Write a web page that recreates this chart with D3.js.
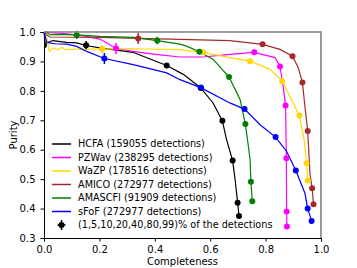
<!DOCTYPE html>
<html>
<head>
<meta charset="utf-8">
<script src="https://cdn.jsdelivr.net/npm/d3@7"></script>
<style>
  body { margin: 0; background: #fff; }
  text { font-family: "DejaVu Sans", sans-serif; }
</style>
</head>
<body>
<div id="chart"></div>
<script>
// ---- data: [completeness, purity] along each curve
var hcfaCurve = [[0,1.0],[0.006,0.947],[0.011,0.964],[0.032,0.971],[0.082,0.965],[0.118,0.963],[0.152,0.954],
  [0.202,0.946],[0.321,0.931],[0.443,0.886],[0.503,0.856],[0.566,0.81],[0.611,0.758],[0.644,0.698],
  [0.659,0.634],[0.681,0.563],[0.690,0.498],[0.699,0.42],[0.704,0.375]];
var pzwavCurve = [[0,1.0],[0.01,1.0],[0.034,0.997],[0.082,0.994],[0.154,0.985],[0.202,0.976],[0.26,0.944],
  [0.322,0.934],[0.395,0.925],[0.491,0.915],[0.575,0.915],[0.671,0.924],[0.759,0.931],[0.834,0.913],
  [0.852,0.883],[0.864,0.811],[0.872,0.750],[0.875,0.571],[0.876,0.39],[0.877,0.339]];
var wazpCurve = [[0,0.998],[0.010,0.981],[0.019,0.934],[0.034,0.946],[0.052,0.940],[0.064,0.948],[0.076,0.940],
  [0.118,0.942],[0.21,0.942],[0.322,0.943],[0.491,0.940],[0.575,0.931],[0.671,0.913],[0.744,0.901],
  [0.816,0.873],[0.860,0.833],[0.900,0.758],[0.922,0.716],[0.939,0.634],[0.948,0.554],[0.952,0.495]];
var amicoCurve = [[0,1.0],[0.01,0.99],[0.022,0.983],[0.202,0.982],[0.34,0.978],[0.491,0.975],[0.671,0.971],
  [0.789,0.958],[0.852,0.941],[0.897,0.918],[0.918,0.879],[0.933,0.828],[0.942,0.747],[0.952,0.664],
  [0.960,0.52],[0.968,0.469],[0.973,0.415]];
var amascfiCurve = [[0,1.0],[0.01,0.998],[0.022,0.991],[0.082,0.991],[0.118,0.99],[0.202,0.985],[0.322,0.982],
  [0.409,0.971],[0.491,0.959],[0.515,0.952],[0.561,0.933],[0.611,0.907],[0.668,0.847],[0.696,0.794],
  [0.708,0.770],[0.727,0.687],[0.738,0.611],[0.744,0.566],[0.747,0.491],[0.752,0.425]];
var sfofCurve = [[0,1.0],[0.009,0.967],[0.019,0.963],[0.040,0.960],[0.082,0.959],[0.118,0.951],[0.154,0.934],
  [0.218,0.910],[0.322,0.889],[0.443,0.861],[0.491,0.838],[0.566,0.811],[0.671,0.759],[0.724,0.738],
  [0.780,0.685],[0.836,0.643],[0.876,0.594],[0.909,0.529],[0.942,0.452],[0.952,0.40],[0.966,0.358]];

// ---- percentile markers: [completeness, purity, xerr, yerr]
var hcfaMarks = [[0.152,0.955,0.01,0.014],[0.443,0.886,0.004,0.004],[0.566,0.81,0.003,0.003],[0.644,0.698,0.003,0.003],
  [0.681,0.563,0.003,0.003],[0.699,0.42,0.003,0.003],[0.704,0.375,0.003,0.003]];
var pzwavMarks = [[0.26,0.944,0.01,0.019],[0.759,0.931,0.004,0.004],[0.852,0.883,0.003,0.004],[0.872,0.750,0.003,0.003],
  [0.875,0.571,0.003,0.003],[0.876,0.39,0.003,0.003],[0.877,0.339,0.003,0.003]];
var wazpMarks = [[0.21,0.942,0.01,0.014],[0.575,0.931,0.004,0.004],[0.744,0.901,0.003,0.003],[0.860,0.833,0.003,0.003],
  [0.922,0.716,0.003,0.003],[0.948,0.554,0.003,0.003],[0.952,0.495,0.003,0.003]];
var amicoMarks = [[0.34,0.978,0.01,0.019],[0.789,0.958,0.004,0.004],[0.897,0.918,0.004,0.004],[0.933,0.828,0.003,0.004],
  [0.952,0.664,0.003,0.003],[0.968,0.469,0.003,0.003],[0.973,0.415,0.003,0.003]];
var amascfiMarks = [[0.118,0.99,0.01,0.014],[0.409,0.971,0.008,0.013],[0.561,0.933,0.004,0.004],[0.668,0.847,0.003,0.003],
  [0.727,0.687,0.003,0.003],[0.747,0.491,0.003,0.003],[0.752,0.425,0.003,0.003]];
var sfofMarks = [[0.218,0.910,0.01,0.019],[0.566,0.811,0.004,0.004],[0.724,0.738,0.003,0.003],[0.836,0.643,0.003,0.003],
  [0.909,0.529,0.003,0.003],[0.952,0.40,0.003,0.003],[0.966,0.358,0.003,0.003]];

var names = ["HCFA (159055 detections)", "PZWav (238295 detections)", "WaZP (178516 detections)",
  "AMICO (272977 detections)", "AMASCFI (91909 detections)", "sFoF (272977 detections)"];
var colors = ["black", "magenta", "gold", "brown", "green", "blue"];
var curves = [hcfaCurve, pzwavCurve, wazpCurve, amicoCurve, amascfiCurve, sfofCurve];
var marks = [hcfaMarks, pzwavMarks, wazpMarks, amicoMarks, amascfiMarks, sfofMarks];
var markLabel = "(1,5,10,20,40,80,99)% of the detections";
var xTicks = [0, 0.2, 0.4, 0.6, 0.8, 1.0];
var yTicks = [0.3, 0.4, 0.5, 0.6, 0.7, 0.8, 0.9, 1.0];

var W = 357, H = 268;
var margin = {top: 32, right: 36, bottom: 30, left: 44};

var svg = d3.select("#chart").append("svg")
    .attr("width", W).attr("height", H);

var x = d3.scaleLinear().domain([0, 1]).range([margin.left, W - margin.right]);
var y = d3.scaleLinear().domain([0.3, 1]).range([H - margin.bottom, margin.top]);

// axes
var gx = svg.append("g")
    .attr("transform", "translate(0," + (H - margin.bottom) + ")")
    .call(d3.axisBottom(x).tickValues(xTicks).tickFormat(d3.format(".1f")).tickSizeOuter(0).tickSize(3.5).tickPadding(4));
var gy = svg.append("g")
    .attr("transform", "translate(" + margin.left + ",0)")
    .call(d3.axisLeft(y).tickValues(yTicks).tickFormat(d3.format(".1f")).tickSizeOuter(0).tickSize(3.5).tickPadding(5));
[gx, gy].forEach(function(g){
  g.selectAll("text").style("font-size", "10px").attr("fill", "black");
  g.select(".domain").attr("stroke", "black");
});

// curves
var line = d3.line().x(d => x(d[0])).y(d => y(d[1]));
curves.forEach(function(c, i){
  svg.append("path").datum(c)
    .attr("d", line)
    .attr("fill", "none")
    .attr("stroke", colors[i])
    .attr("stroke-width", 1.2);
});

// markers with error bars
marks.forEach(function(m, i){
  var g = svg.append("g").attr("fill", colors[i]).attr("stroke", colors[i]);
  m.forEach(function(d){
    g.append("line").attr("x1", x(d[0] - d[2])).attr("x2", x(d[0] + d[2]))
      .attr("y1", y(d[1])).attr("y2", y(d[1])).attr("stroke-width", 1.5);
    g.append("line").attr("x1", x(d[0])).attr("x2", x(d[0]))
      .attr("y1", y(d[1] - d[3])).attr("y2", y(d[1] + d[3])).attr("stroke-width", 1.5);
    g.append("circle").attr("cx", x(d[0])).attr("cy", y(d[1])).attr("r", 3).attr("stroke", "none");
  });
});

// top & right frame (grey)
svg.append("path")
  .attr("d", "M" + x(0) + "," + y(1) + "H" + x(1) + "V" + y(0.3))
  .attr("fill", "none").attr("stroke", "#808080").attr("stroke-width", 1.6);

// legend
var leg = svg.append("g").attr("transform", "translate(52,144)");
names.forEach(function(n, i){
  var r = leg.append("g").attr("transform", "translate(0," + i * 13.5 + ")");
  r.append("line").attr("x1", 0).attr("x2", 19).attr("stroke", colors[i]).attr("stroke-width", 1.5);
  r.append("text").attr("x", 26).attr("dy", "0.35em").style("font-size", "9.7px").text(n);
});
var lm = leg.append("g").attr("transform", "translate(9.5," + 6 * 13.5 + ")");
lm.append("line").attr("x1", -4).attr("x2", 4).attr("stroke", "black").attr("stroke-width", 1.5);
lm.append("line").attr("y1", -5).attr("y2", 5).attr("stroke", "black").attr("stroke-width", 1.5);
lm.append("circle").attr("r", 3).attr("fill", "black");
leg.append("text").attr("x", 26).attr("y", 6 * 13.5).attr("dy", "0.35em").style("font-size", "9.7px").text(markLabel);

// axis labels
svg.append("text").attr("x", (x(0) + x(1)) / 2).attr("y", 264.5)
  .attr("text-anchor", "middle").style("font-size", "10px").text("Completeness");
svg.append("text").attr("transform", "translate(17," + (y(0.65)) + ") rotate(-90)")
  .attr("text-anchor", "middle").style("font-size", "10px").text("Purity");
</script>
</body>
</html>
